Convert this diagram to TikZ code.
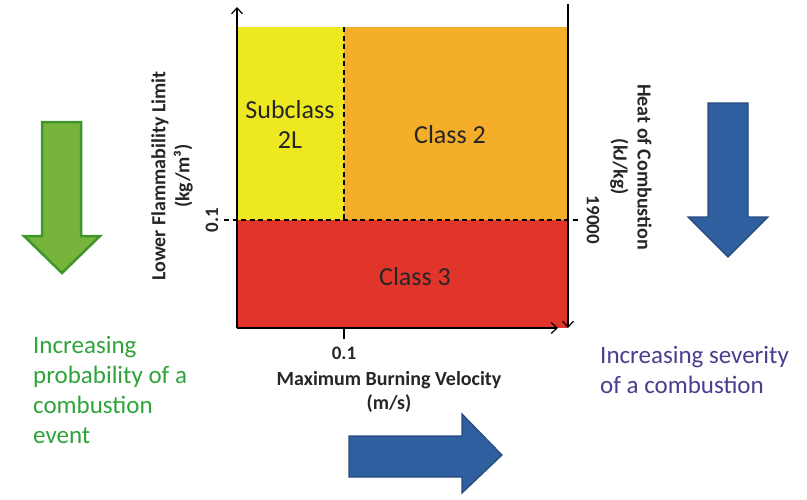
\documentclass[tikz,border=0pt]{standalone}
\usepackage{fontspec}
\setmainfont{Carlito}
\usetikzlibrary{arrows.meta}
\definecolor{cyel}{HTML}{EEE820}
\definecolor{corg}{HTML}{F4AE2A}
\definecolor{cred}{HTML}{E1352C}
\definecolor{bluefill}{HTML}{2F5F9E}
\definecolor{blueedge}{HTML}{26497C}
\definecolor{greenfill}{HTML}{76B43C}
\definecolor{greenedge}{HTML}{3E962C}
\definecolor{greentext}{HTML}{2EA33A}
\definecolor{bluetext}{HTML}{4A3E8E}
\tikzset{
  axisline/.style={line width=1.4pt, -{Straight Barb[length=6pt,width=11pt,line width=1.2pt]}},
  dashline/.style={line width=1.2pt, dash pattern=on 5pt off 3.5pt},
  classlbl/.style={font=\fontsize{26}{30}\selectfont, text=black!85, align=center},
  axislbl/.style={font=\fontsize{20}{24}\selectfont\bfseries, text=black!85, align=center},
  ticklbl/.style={font=\fontsize{19}{22}\selectfont\bfseries, text=black!85},
  sidetext/.style={font=\fontsize{25}{30}\selectfont, align=left, anchor=north west, inner sep=0pt},
  bluearrow/.style={fill=bluefill, draw=blueedge, line width=1.2pt, line join=miter},
  greenarrow/.style={fill=greenfill, draw=greenedge, line width=2.5pt, line join=miter},
}
\begin{document}
\begin{tikzpicture}[x=1pt,y=-1pt]
\useasboundingbox (0,0) rectangle (807,499);
% regions
\fill[cyel] (237,27) rectangle (344,220);
\fill[corg] (344,27) rectangle (568,220);
\fill[cred] (237,220) rectangle (568,328);
% coordinates
\coordinate (o) at (237,328);
\coordinate (ytop) at (237,7);
\coordinate (xend) at (558,328);
\coordinate (rtop) at (568,4);
\coordinate (rbot) at (568,328);
\coordinate (dvt) at (344,27);
\coordinate (dvb) at (344,220);
\coordinate (dhl) at (224,220);
\coordinate (dhr) at (579,220);
\coordinate (tkt) at (344,328);
\coordinate (tkb) at (344,339);
% dashed lines
\draw[dashline] (dvt) -- (dvb);
\draw[dashline] (dhl) -- (dhr);
% axes
\draw[axisline] (o) -- (ytop);
\draw[axisline] (o) -- (xend);
\draw[axisline, line width=1.1pt] (rtop) -- (rbot);
\draw[line width=1.4pt] (tkt) -- (tkb);
% class labels
\node[classlbl] (sub) at (290,124) {Subclass\\2L};
\node[classlbl] (c2) at (450,135) {Class 2};
\node[classlbl] (c3) at (415,277) {Class 3};
% axis labels
\node[axislbl, rotate=90] (ylab) at (172,176) {Lower Flammability Limit\\(kg/m³)};
\node[ticklbl, rotate=90] (y01) at (212,220) {0.1};
\node[axislbl, rotate=-90] (rlab) at (631,167) {Heat of Combustion\\(kJ/kg)};
\node[ticklbl, rotate=-90] (r19) at (593,220) {19000};
\node[ticklbl] (x01) at (344,353) {0.1};
\node[axislbl] (xlab) at (389,392) {Maximum Burning Velocity\\(m/s)};
% block arrows
\draw[greenarrow] (42,122) -- (81,122) -- (81,236) -- (100,236) -- (62,273) -- (24,236) -- (42,236) -- cycle;
\draw[bluearrow] (708,103) -- (748,103) -- (748,217) -- (768,217) -- (728,257) -- (688,217) -- (708,217) -- cycle;
\draw[bluearrow] (349,436) -- (462,436) -- (462,414) -- (502,455) -- (462,493) -- (462,477) -- (349,477) -- cycle;
% side texts
\node[sidetext, text=greentext] (gtext) at (33,336) {Increasing\\probability of a\\combustion\\event};
\node[sidetext, text=bluetext] (btext) at (600,346) {Increasing severity\\of a combustion};
\end{tikzpicture}
\end{document}
